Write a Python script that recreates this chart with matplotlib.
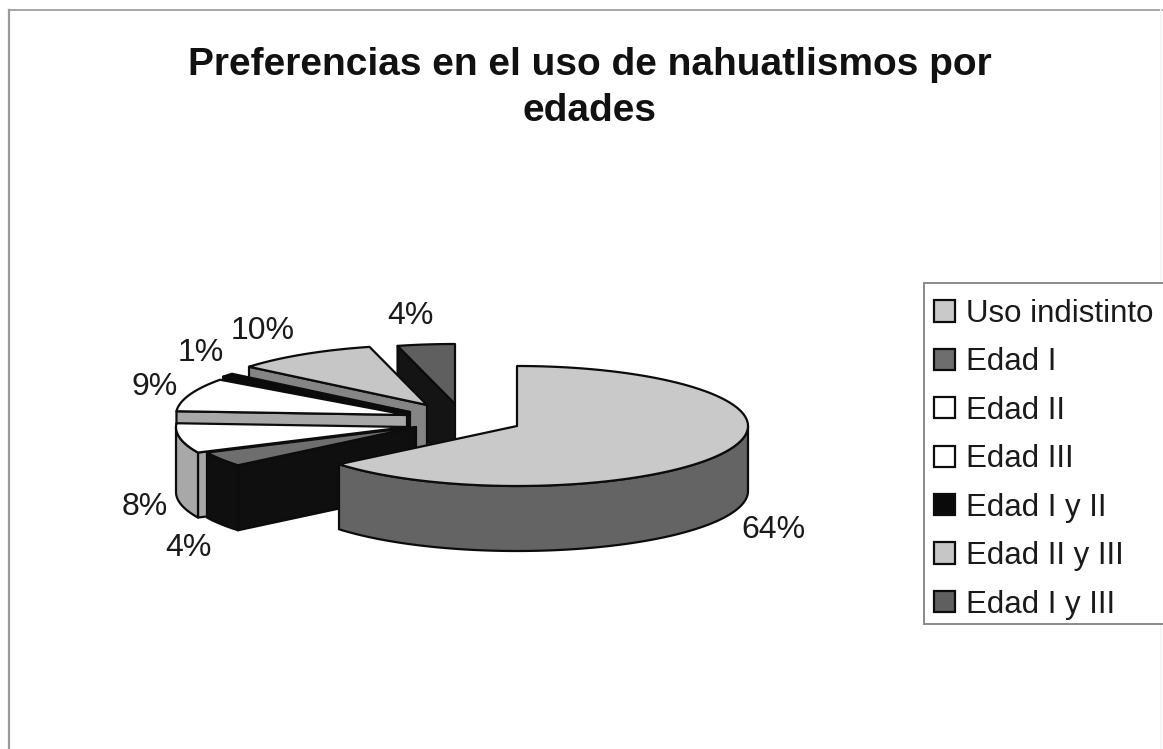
import numpy as np
import matplotlib
matplotlib.use("Agg")
import matplotlib.pyplot as plt
from matplotlib.lines import Line2D
from matplotlib.patches import Patch, Rectangle

plt.rcParams['font.family'] = ['Liberation Sans', 'DejaVu Sans']

title = "Preferencias en el uso de nahuatlismos por\nedades"
categories = ["Uso indistinto", "Edad I", "Edad II", "Edad III", "Edad I y II", "Edad II y III", "Edad I y III"]
values = [64, 4, 8, 9, 1, 10, 4]

top_colors = ["#c9c9c9", "#6e6e6e", "#ffffff", "#ffffff", "#0a0a0a", "#c6c6c6", "#5f5f5f"]
side_colors = ["#646464", "#0f0f0f", "#a8a8a8", "#a8a8a8", "#0a0a0a", "#858585", "#141414"]
# slice apex in figure pixels (explosion layout)
apex_x = [517, 416, 407, 407, 410, 427, 455]
apex_y = [426, 427, 427, 415, 412, 405, 404]
label_x = [773, 188, 145, 155, 201, 263, 410]
label_y = [530, 548, 507, 387, 353, 331, 316]

RX, RY, DEPTH = 231, 60, 65
EDGE = "#0c0c0c"

fig = plt.figure(figsize=(11.63, 7.49), dpi=100, facecolor="white")
ax = fig.add_axes([0, 0, 1, 1])
ax.set_xlim(0, 1163)
ax.set_ylim(749, 0)
ax.axis("off")

# chart frame: the scanned page shows the top and left sides, the rest only faintly
ax.add_line(Line2D([9, 1163], [10, 10], color="#a6a6a6", lw=1.4))
ax.add_line(Line2D([9, 9], [10, 749], color="#9a9a9a", lw=1.6))
ax.add_line(Line2D([1161, 1161], [10, 749], color="#f4f4f4", lw=1.2))

total = sum(values)
edges = np.concatenate([[0], np.cumsum(values)]) / total * 2 * np.pi


def pt(cx, cy, th):
    return cx + RX * np.sin(th), cy - RY * np.cos(th)


def draw_slice(i, z):
    a0, a1 = edges[i], edges[i + 1]
    cx, cy = apex_x[i], apex_y[i]
    th = np.linspace(a0, a1, max(int((a1 - a0) * 60), 8))
    xs, ys = pt(cx, cy, th)
    kw = dict(edgecolor=EDGE, linewidth=1.6, joinstyle="round", zorder=z)
    # radial faces that look towards the viewer
    if np.sin(a0) < -1e-9:
        ex, ey = pt(cx, cy, a0)
        ax.fill([cx, ex, ex, cx], [cy, ey, ey + DEPTH, cy + DEPTH], facecolor=side_colors[i], **kw)
    if np.sin(a1) > 1e-9:
        ex, ey = pt(cx, cy, a1)
        ax.fill([cx, ex, ex, cx], [cy, ey, ey + DEPTH, cy + DEPTH], facecolor=side_colors[i], **kw)
    # outer rim, only the part facing the viewer
    front = np.cos(th) <= 0
    if front.any():
        rx, ry = xs[front], ys[front]
        ax.fill(np.r_[rx, rx[::-1]], np.r_[ry, ry[::-1] + DEPTH], facecolor=side_colors[i], **kw)
    # top
    ax.fill(np.r_[cx, xs], np.r_[cy, ys], facecolor=top_colors[i], **kw)


# painter's order: back slices first, the large slice last
for z, i in enumerate([6, 5, 4, 3, 2, 1, 0]):
    draw_slice(i, 3 + z)

for v, lx, ly in zip(values, label_x, label_y):
    ax.text(lx, ly, f"{v}%", fontsize=23, color="#1a1a1a", ha="center", va="center", zorder=20)

fig.text(590 / 1163, 1 - 88 / 749, title, fontsize=28, fontweight="bold", color="#111111",
         ha="center", va="center", linespacing=1.35)

ax.add_patch(Rectangle((924, 283), 245, 341, facecolor="white", edgecolor="#8a8a8a", linewidth=1.4, zorder=25))
handles = [Patch(facecolor=c, edgecolor=EDGE, linewidth=1.6) for c in top_colors]
leg = ax.legend(handles, categories, loc="upper left",
                bbox_to_anchor=(922 / 1163, 1 - 287 / 749), bbox_transform=fig.transFigure,
                fontsize=22.5, frameon=False,
                handlelength=0.67, handleheight=0.67, handletextpad=0.35,
                labelspacing=0.59, borderpad=0.38, borderaxespad=0, labelcolor="#1a1a1a")
leg.set_zorder(30)

fig.savefig("out.png", dpi=100, facecolor="white")
